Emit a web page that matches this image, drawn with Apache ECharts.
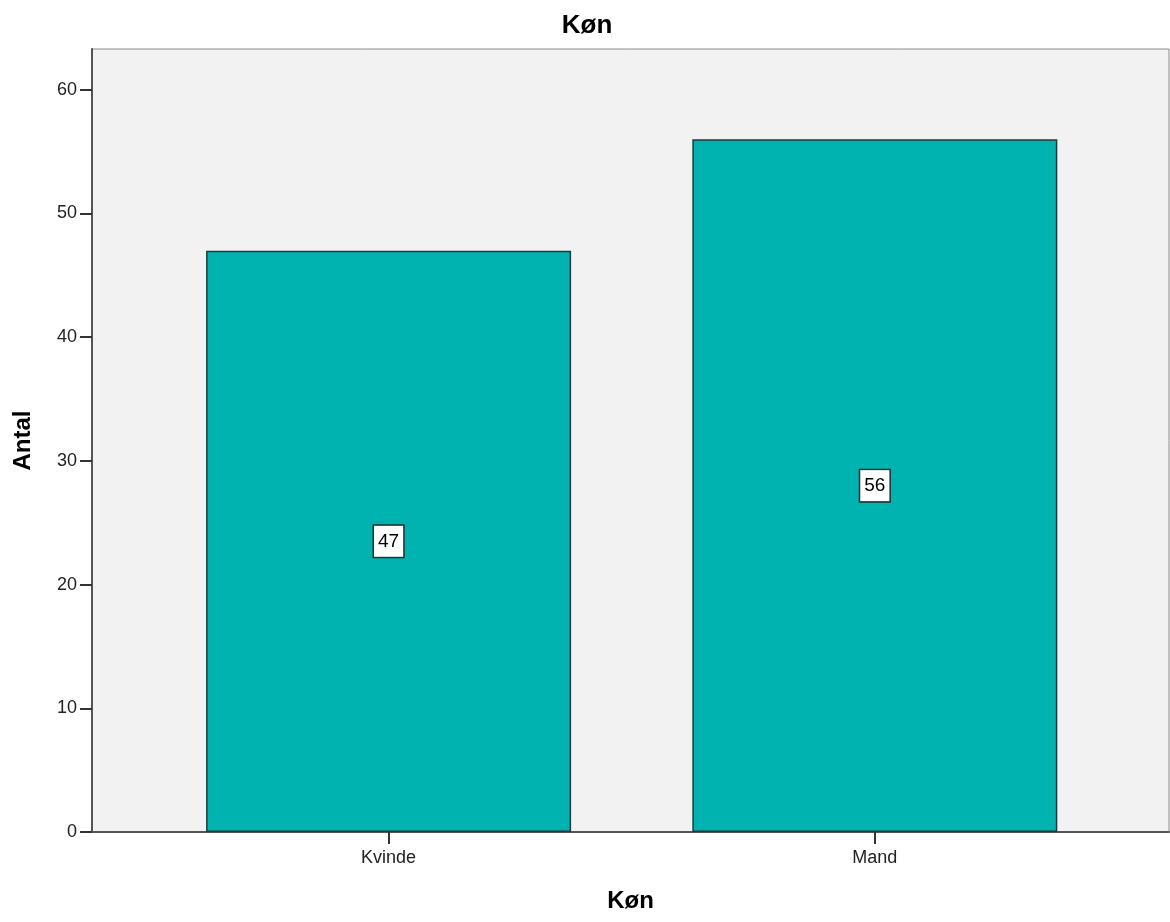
<!DOCTYPE html>
<html><head><meta charset="utf-8">
<script src="https://cdn.jsdelivr.net/npm/echarts@6/dist/echarts.min.js"></script>
<style>html,body{margin:0;padding:0;background:#fff}#c{width:1170px;height:922px}</style>
</head><body><div id="c"></div>
<script>
const categories = ['Kvinde', 'Mand'];
const counts = [47, 56];
const yTicks = [0, 10, 20, 30, 40, 50, 60];

const positions = categories.map((c, i) => i + 1);
const chart = echarts.init(document.getElementById('c'));
const F = 'Arial, "Liberation Sans", sans-serif';
chart.setOption({
  animation: false,
  title: { text: 'Køn', left: 582, top: 8, textAlign: 'center',
    textStyle: { fontFamily: F, fontSize: 26, fontWeight: 'bold', color: '#000' } },
  grid: { left: 92, right: 1, top: 49, bottom: 90, show: true,
    backgroundColor: '#f2f2f2', borderColor: '#8a8a8a', borderWidth: 1 },
  xAxis: {
    type: 'value', min: 0.39, max: 2.605,
    name: 'Køn', nameLocation: 'middle', nameGap: 57,
    nameTextStyle: { fontFamily: F, fontSize: 24, fontWeight: 'bold', color: '#000' },
    axisLine: { show: true, onZero: false, lineStyle: { color: '#555', width: 2 } },
    axisTick: { show: true, length: 12, customValues: positions, lineStyle: { color: '#333', width: 2 } },
    axisLabel: { customValues: positions, margin: 17, fontFamily: F, fontSize: 18, color: '#222',
      formatter: v => categories[Math.round(v) - 1] || '' },
    splitLine: { show: false }
  },
  yAxis: {
    type: 'value', min: 0, max: 63.3,
    name: 'Antal', nameLocation: 'middle', nameGap: 57, nameRotate: 90,
    nameTextStyle: { fontFamily: F, fontSize: 24, fontWeight: 'bold', color: '#000' },
    axisLine: { show: true, lineStyle: { color: '#555', width: 2 } },
    axisTick: { show: true, length: 12, customValues: yTicks, lineStyle: { color: '#333', width: 2 } },
    axisLabel: { customValues: yTicks, margin: 15, fontFamily: F, fontSize: 18, color: '#222' },
    splitLine: { show: false }
  },
  series: [{
    type: 'bar',
    data: positions.map((p, i) => [p, counts[i]]),
    barWidth: 365,
    itemStyle: { color: '#00b2b0', borderColor: '#1f3a3a', borderWidth: 1.5 },
    label: { show: true, position: 'inside', fontFamily: F, fontSize: 19, color: '#000',
      backgroundColor: '#fff', borderColor: '#1f3030', borderWidth: 1.5, padding: [7, 4, 5, 4],
      formatter: p => String(p.value[1]) }
  }]
});
</script></body></html>
